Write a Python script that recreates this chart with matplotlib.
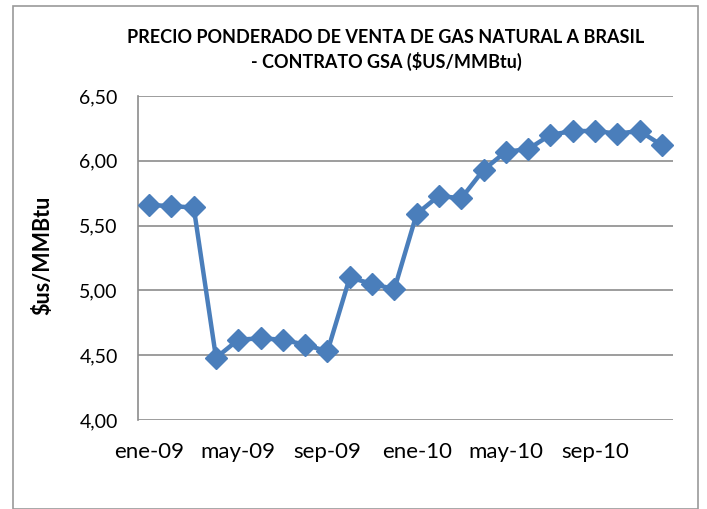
import matplotlib
matplotlib.use("Agg")
import matplotlib.pyplot as plt
from matplotlib.patches import Rectangle
from matplotlib.ticker import FuncFormatter

months = ["ene-09", "feb-09", "mar-09", "abr-09", "may-09", "jun-09", "jul-09", "ago-09",
          "sep-09", "oct-09", "nov-09", "dic-09", "ene-10", "feb-10", "mar-10", "abr-10",
          "may-10", "jun-10", "jul-10", "ago-10", "sep-10", "oct-10", "nov-10", "dic-10"]
prices = [5.66, 5.65, 5.64, 4.48, 4.62, 4.63, 4.62, 4.58, 4.53, 5.10, 5.05, 5.01,
          5.59, 5.73, 5.71, 5.93, 6.07, 6.09, 6.20, 6.23, 6.23, 6.21, 6.23, 6.12]
yticks = [4.00, 4.50, 5.00, 5.50, 6.00, 6.50]
title = "PRECIO PONDERADO DE VENTA DE GAS NATURAL A BRASIL\n- CONTRATO GSA ($US/MMBtu)"
ylabel = "$us/MMBtu"

plt.rcParams['font.family'] = ['Lato', 'DejaVu Sans']

W, H = 707, 509
fig = plt.figure(figsize=(W / 100, H / 100), dpi=100)
fig.patches.append(Rectangle((13 / W, 0), (698 - 13) / W, (H - 6) / H, transform=fig.transFigure,
                             fill=False, edgecolor="#9a9a9a", linewidth=1.2))

ax = fig.add_axes([138 / W, 1 - 420 / H, (673 - 138) / W, (420 - 96) / H])
x = list(range(len(months)))
ax.plot(x, prices, color="#4A7EBB", linewidth=3.2, marker="D", markersize=11.5,
        markerfacecolor="#4A7EBB", markeredgecolor="#4A7EBB", zorder=3, clip_on=False)

ax.set_xlim(-0.5, len(months) - 0.5)
ax.set_ylim(4.0, 6.5)
ax.set_yticks(yticks)
ax.yaxis.set_major_formatter(FuncFormatter(lambda v, p: f"{v:.2f}".replace(".", ",")))
ax.set_xticks(x[::4])
ax.set_xticklabels(months[::4])
ax.grid(axis="y", color="#8c8c8c", linewidth=1.2)
ax.set_axisbelow(True)
for s in ["top", "right", "bottom"]:
    ax.spines[s].set_visible(False)
ax.spines["left"].set_color("#8c8c8c")
ax.spines["left"].set_linewidth(1.2)
ax.tick_params(axis="both", length=0, colors="black")
ax.tick_params(axis="y", pad=14.5, labelsize=14)
ax.tick_params(axis="x", pad=16, labelsize=16)

fig.text(386 / W, 1 - 50 / H, title, ha="center", va="center", fontsize=13,
         fontweight="bold", linespacing=1.35)
fig.text(43 / W, 1 - 255 / H, ylabel, ha="center", va="center", rotation=90,
         fontsize=15.5, fontweight="bold")

fig.savefig("out.png", dpi=100)
